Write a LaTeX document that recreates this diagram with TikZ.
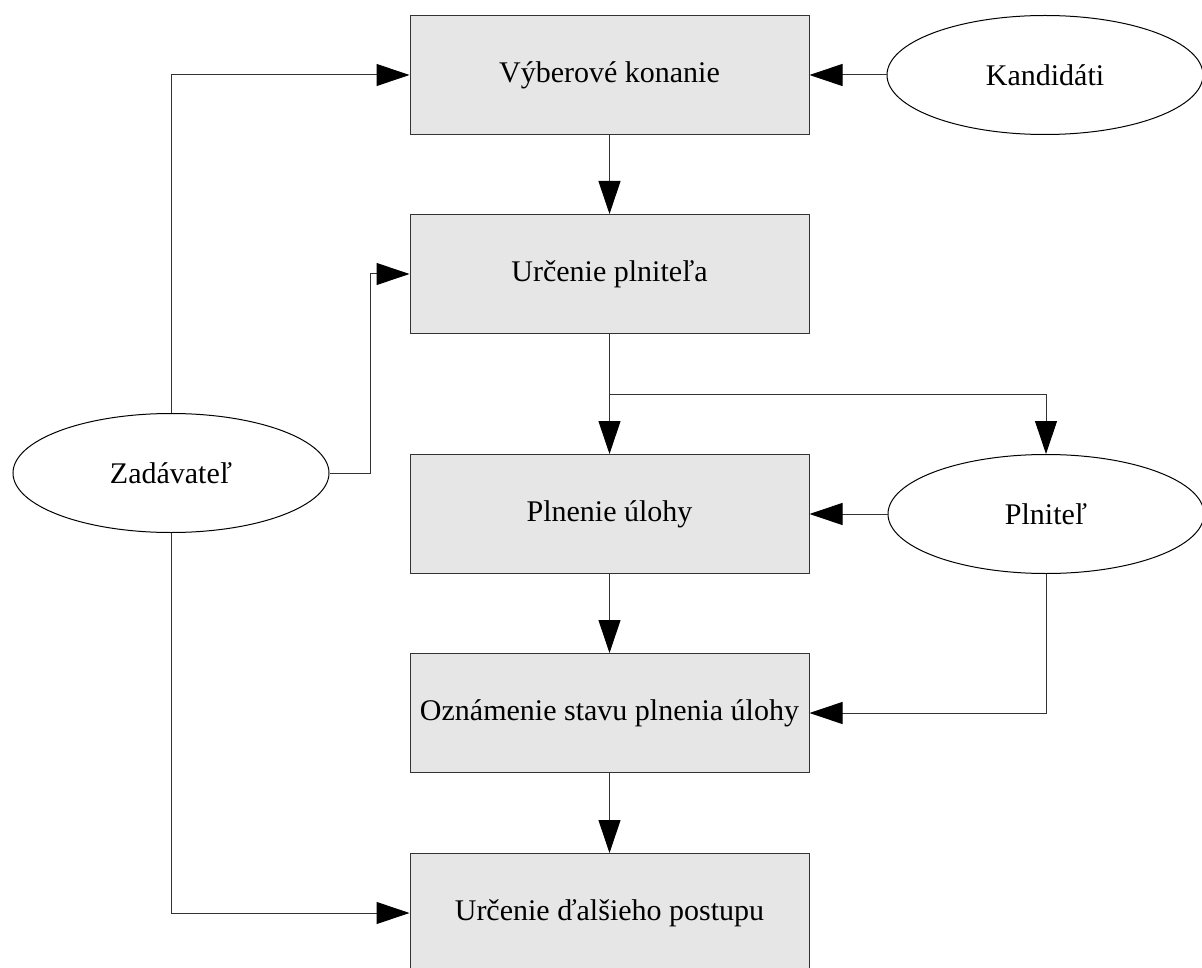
\documentclass[tikz,border=0pt]{standalone}
\usepackage{fontspec}
\setmainfont{Liberation Serif}
\usetikzlibrary{calc}
\usetikzlibrary{shapes,arrows.meta}
\usetikzlibrary{positioning}
\definecolor{boxgray}{HTML}{E6E6E6}
\definecolor{edgegray}{HTML}{333333}
\tikzstyle{krok}=[rectangle, draw=edgegray, line width=1pt, fill=boxgray, align=center, inner sep=0pt, minimum width=399pt, minimum height=119pt, font=\fontsize{30}{36}\selectfont]
\tikzstyle{ucast}=[ellipse, draw, line width=1pt, fill=white, inner sep=0pt, minimum width=316pt, minimum height=119pt, font=\fontsize{30}{36}\selectfont]
\tikzstyle{sip}=[-{Triangle[length=33pt, width=22pt, color=black]}, line width=1pt, color=edgegray]

\begin{document}
\begin{tikzpicture}[x=1pt, y=-1pt]
\useasboundingbox (0,0) rectangle (1202,968);
%\draw[help lines, step=100] (0,0) grid (1202,968);
\node[krok] (b1) at (609.5, 75) {Výberové konanie};
\node[krok] (b2) at (609.5, 274) {Určenie plniteľa};
\node[krok] (b3) at (609.5, 514) {Plnenie úlohy};
\node[krok] (b4) at (609.5, 713) {Oznámenie stavu plnenia úlohy};
\node[krok] (b5) at (609.5, 913) {Určenie ďalšieho postupu};

\node[ucast] (kand) at (1045, 75) {Kandidáti};
\node[ucast] (pln) at (1046, 514) {Plniteľ};
\node[ucast] (zad) at (171, 473) {Zadávateľ};

\coordinate (j2) at (370, 473);
\coordinate (j3) at ($(b2.south)!0.5!(b3.north)$);

\draw [sip] (kand) -- (b1);
\draw [sip] (b1) -- (b2);
\draw [sip] (b2) -- (b3);
\draw [sip] (j3) -| (pln);
\draw [sip] (pln) -- (b3);
\draw [sip] (b3) -- (b4);
\draw [sip] (pln.south) |- (b4.east);
\draw [sip] (b4) -- (b5);
\draw [sip] (zad.north) |- (b1.west);
\draw [sip] (zad.east) -- (j2) |- (b2.west);
\draw [sip] (zad.south) |- (b5.west);

\end{tikzpicture}
\end{document}
